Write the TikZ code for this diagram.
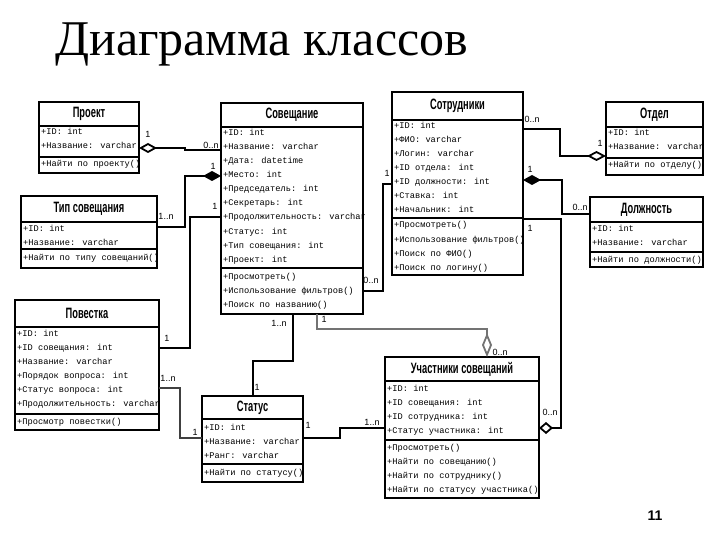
\documentclass[tikz,border=0pt]{standalone}
\usepackage{fontspec}
\setmainfont{Liberation Serif}
\newfontfamily\monof{Liberation Mono}
\newfontfamily\titf[FakeStretch=0.62]{Liberation Sans}
\newfontfamily\lblf{Liberation Sans}
\usetikzlibrary{arrows.meta}
\tikzset{
  clsbox/.style={draw, line width=2pt, inner sep=0pt, outer sep=0pt},
  sepline/.style={line width=2pt},
  clstitle/.style={font=\titf\bfseries\fontsize{15}{15}\selectfont, inner sep=0pt},
  attr/.style={font=\monof\fontsize{8.7}{10}\selectfont, anchor=west, inner sep=0pt, text height=6pt, text depth=2pt},
  conn/.style={line width=1.8pt, line join=miter},
  grayconn/.style={conn, draw=black!55},
  lbl/.style={font=\lblf\fontsize{9}{10}\selectfont, inner sep=0pt},
}
% name, x1, y1, x2, y2, ytitle, ysep, title
\newcommand{\umlbox}[8]{%
  \node[clsbox, anchor=north west, minimum width={#4-#2}, minimum height={#5-#3}] (#1) at (#2,#3) {};
  \draw[sepline] (#2,#6) -- (#4,#6);
  \draw[sepline] (#2,#7) -- (#4,#7);
  \node[clstitle] (#1-t) at ({(#2+#4)/2},{(#3+#6)/2}) {#8};
}
% prefix, x, ystart, list
\newcommand{\itemlist}[4]{%
  \foreach \txt [count=\i] in {#4} {\node[attr] (#1\i) at (#2, {#3+14*(\i-1)}) {\txt};}
}
\begin{document}
\begin{tikzpicture}[x=1pt, y=-1pt]
\path[use as bounding box] (0,0) rectangle (720,540);

\node[anchor=base west, inner sep=0pt, font=\fontsize{50}{50}\selectfont] (title) at (55,56) {Диаграмма классов};
\node[inner sep=0pt, font=\lblf\bfseries\fontsize{14}{14}\selectfont] (pnum) at (655,516) {11};

% classes
\umlbox{proj}{39}{102}{139}{173}{126}{157}{Проект}
\itemlist{proj-a}{41}{133}{+ID: int, +Название: varchar}
\itemlist{proj-m}{41}{165}{+Найти по проекту()}

\umlbox{tip}{21}{196}{157}{268}{222}{249}{Тип совещания}
\itemlist{tip-a}{23}{229}{+ID: int, +Название: varchar}
\itemlist{tip-m}{23}{258}{+Найти по типу совещаний()}

\umlbox{sov}{221}{103}{363}{314}{127}{268}{Совещание}
\itemlist{sov-a}{223}{134}{+ID: int, +Название: varchar, +Дата: datetime, +Место: int, +Председатель: int, +Секретарь: int, +Продолжительность: varchar, +Статус: int, +Тип совещания: int, +Проект: int}
\itemlist{sov-m}{223}{277}{+Просмотреть(), +Использование фильтров(), +Поиск по названию()}

\umlbox{sotr}{392}{92}{523}{275}{120}{218}{Сотрудники}
\itemlist{sotr-a}{394}{127}{+ID: int, +ФИО: varchar, +Логин: varchar, +ID отдела: int, +ID должности: int, +Ставка: int, +Начальник: int}
\itemlist{sotr-m}{394}{226}{+Просмотреть(), +Использование фильтров(), +Поиск по ФИО(), +Поиск по логину()}

\umlbox{otdel}{606}{102}{703}{175}{127}{158}{Отдел}
\itemlist{otdel-a}{608}{134}{+ID: int, +Название: varchar}
\itemlist{otdel-m}{608}{166}{+Найти по отделу()}

\umlbox{dolzh}{590}{197}{703}{267}{222}{252}{Должность}
\itemlist{dolzh-a}{592}{229}{+ID: int, +Название: varchar}
\itemlist{dolzh-m}{592}{260}{+Найти по должности()}

\umlbox{pov}{15}{300}{159}{430}{327}{414}{Повестка}
\itemlist{pov-a}{17}{334}{+ID: int, +ID совещания: int, +Название: varchar, +Порядок вопроса: int, +Статус вопроса: int, +Продолжительность: varchar}
\itemlist{pov-m}{17}{422}{+Просмотр повестки()}

\umlbox{stat}{202}{396}{303}{482}{419}{464}{Статус}
\itemlist{stat-a}{204}{428}{+ID: int, +Название: varchar, +Ранг: varchar}
\itemlist{stat-m}{204}{473}{+Найти по статусу()}

\umlbox{uch}{385}{357}{539}{498}{381}{440}{Участники совещаний}
\itemlist{uch-a}{387}{389}{+ID: int, +ID совещания: int, +ID сотрудника: int, +Статус участника: int}
\itemlist{uch-m}{387}{448}{+Просмотреть(), +Найти по совещанию(), +Найти по сотруднику(), +Найти по статусу участника()}

% connectors
\draw[conn, -{Diamond[open, length=18pt, width=10pt]}] (sov.west |- 0,150) -- (185,150) -- (185,148) -- (proj.east |- 0,148);
\node[lbl] (c1a) at (148,134) {1};
\node[lbl] (c1b) at (211,145) {0..n};

\draw[conn, -{Diamond[length=18pt, width=10pt]}] (tip.east |- 0,227) -- (185,227) -- (185,176) -- (sov.west |- 0,176);
\node[lbl] (c2a) at (213,166) {1};
\node[lbl] (c2b) at (166,216) {1..n};

\draw[conn] (sov.west |- 0,217) -- (190,217) -- (190,348) -- (pov.east |- 0,348);
\node[lbl] (c3a) at (215,206) {1};
\node[lbl] (c3b) at (167,338) {1};

\draw[conn, draw=black!75] (pov.east |- 0,388) -- (180,388) -- (180,438) -- (stat.west |- 0,438);
\node[lbl] (c4a) at (168,378) {1..n};
\node[lbl] (c4b) at (195,432) {1};

\draw[conn] (sov.south -| 293,0) -- (293,361) -- (253,361) -- (stat.north -| 253,0);
\node[lbl] (c5a) at (279,323) {1..n};
\node[lbl] (c5b) at (257,387) {1};

\draw[grayconn, -{Diamond[open, length=24pt, width=10pt]}] (sov.south -| 317,0) -- (317,329) -- (487,329) -- (uch.north -| 487,0);
\node[lbl] (c6a) at (324,319) {1};
\node[lbl] (c6b) at (500,352) {0..n};

\draw[conn] (sov.east |- 0,291) -- (383,291) -- (383,184) -- (sotr.west |- 0,184);
\node[lbl] (c7a) at (371,280) {0..n};
\node[lbl] (c7b) at (387,173) {1};

\draw[conn, -{Diamond[open, length=19pt, width=10pt]}] (sotr.east |- 0,129) -- (560,129) -- (560,156) -- (otdel.west |- 0,156);
\node[lbl] (c8a) at (532,119) {0..n};
\node[lbl] (c8b) at (600,143) {1};

\draw[conn, -{Diamond[length=18pt, width=10pt]}] (dolzh.west |- 0,214) -- (562,214) -- (562,180) -- (sotr.east |- 0,180);
\node[lbl] (c9a) at (530,169) {1};
\node[lbl] (c9b) at (580,207) {0..n};

\draw[conn, -{Diamond[open, length=14pt, width=12pt]}] (sotr.east |- 0,219) -- (561,219) -- (561,428) -- (uch.east |- 0,428);
\node[lbl] (c10a) at (530,228) {1};
\node[lbl] (c10b) at (550,412) {0..n};

\draw[conn] (stat.east |- 0,438) -- (340,438) -- (340,428) -- (uch.west |- 0,428);
\node[lbl] (c11a) at (308,425) {1};
\node[lbl] (c11b) at (372,422) {1..n};
\end{tikzpicture}
\end{document}
